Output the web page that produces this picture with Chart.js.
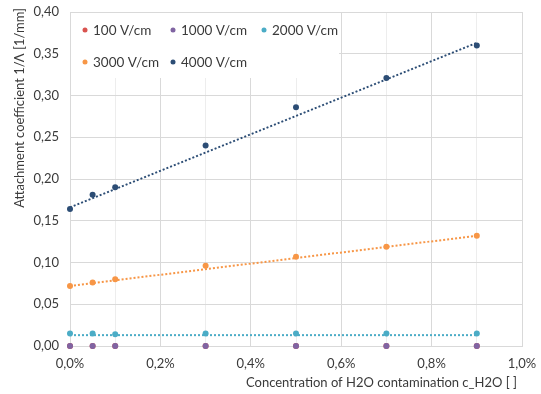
<!DOCTYPE html>
<html>
<head>
<meta charset="utf-8">
<script src="https://cdn.jsdelivr.net/npm/chart.js@4/dist/chart.umd.min.js"></script>
<style>
  html, body { margin: 0; padding: 0; background: #fff; }
  #wrap { width: 541px; height: 394px; }
</style>
</head>
<body>
<div id="wrap"><canvas id="chart" width="541" height="394"></canvas></div>
<script>
"use strict";

/* ---------- data ---------- */
const concentration = [0, 0.05, 0.1, 0.3, 0.5, 0.7, 0.9];   // %
const seriesNames = ["100 V/cm", "1000 V/cm", "2000 V/cm", "3000 V/cm", "4000 V/cm"];
const v100  = [0, 0, 0, 0, 0, 0, 0];
const v1000 = [0, 0, 0, 0, 0, 0, 0];
const v2000 = [0.015, 0.015, 0.014, 0.015, 0.015, 0.015, 0.015];
const v3000 = [0.072, 0.076, 0.080, 0.096, 0.107, 0.119, 0.132];
const v4000 = [0.164, 0.181, 0.190, 0.240, 0.286, 0.321, 0.360];

// linear trend lines (end points)
const trendX    = [0, 0.9];
const trend2000 = [0.013, 0.013];
const trend3000 = [0.072, 0.132];
const trend4000 = [0.166, 0.363];

const yTicks = [0, 0.05, 0.10, 0.15, 0.20, 0.25, 0.30, 0.35, 0.40];
const xTitle = "Concentration of H2O contamination c_H2O [ ]";
const yTitle = "Attachment coefficient 1/\u039B [1/mm]";

/* ---------- style ---------- */
const COLORS = ["#D9534F", "#8064A2", "#4BACC6", "#F79646", "#2C4D75"];
const FONT = "Lato, 'Open Sans', sans-serif";
const TEXT = "#3A3A3A";

function pts(xs, ys) { return xs.map((x, i) => ({ x: x, y: ys[i] })); }
function comma(v, d) { return v.toFixed(d).replace(".", ","); }

const pointSets = [v100, v1000, v2000, v3000, v4000];
const datasets = [];

// trend lines (beneath points)
[[trend2000, 2], [trend3000, 3], [trend4000, 4]].forEach(([t, ci]) => {
  datasets.push({
    type: "line",
    data: pts(trendX, t),
    borderColor: COLORS[ci],
    borderWidth: 2,
    borderDash: [2, 2],
    borderCapStyle: "butt",
    pointRadius: 0,
    fill: false,
    order: 20
  });
});

// points: lower order = drawn on top
pointSets.forEach((vals, i) => {
  datasets.push({
    label: seriesNames[i],
    type: "scatter",
    data: pts(concentration, vals),
    backgroundColor: COLORS[i],
    borderColor: COLORS[i],
    pointRadius: 3,
    pointBorderWidth: 0,
    clip: false,
    order: 10 - i
  });
});

/* ---------- legend box + axis titles ---------- */
const legendPos = [[85, 30], [173, 30], [264, 30], [85, 62], [173, 62]];

const decor = {
  id: "decor",
  beforeDatasetsDraw(chart) {
    const ctx = chart.ctx;
    const a = chart.chartArea;
    ctx.save();
    ctx.fillStyle = "#fff";
    ctx.fillRect(a.left + 1, a.top + 1, 339 - a.left - 1, 78 - a.top - 1);
    ctx.font = "13.5px " + FONT;
    ctx.textBaseline = "middle";
    ctx.textAlign = "left";
    seriesNames.forEach((name, i) => {
      const [x, y] = legendPos[i];
      ctx.fillStyle = COLORS[i];
      ctx.beginPath();
      ctx.arc(x, y, 2.5, 0, Math.PI * 2);
      ctx.fill();
      ctx.fillStyle = TEXT;
      ctx.fillText(name, x + 8, y + 1);
    });
    ctx.restore();
  },
  afterDraw(chart) {
    const ctx = chart.ctx;
    ctx.save();
    ctx.fillStyle = TEXT;
    ctx.font = "13px " + FONT;
    ctx.textBaseline = "middle";
    ctx.textAlign = "right";
    ctx.fillText(xTitle, 517, 383);
    ctx.translate(20, 8);
    ctx.rotate(-Math.PI / 2);
    ctx.fillText(yTitle, 0, 0);
    ctx.restore();
  }
};

new Chart(document.getElementById("chart"), {
  type: "scatter",
  data: { datasets: datasets },
  plugins: [decor],
  options: {
    responsive: false,
    animation: false,
    layout: { padding: { top: 12, right: 19, left: 0, bottom: 0 } },
    plugins: { legend: { display: false }, tooltip: { enabled: false } },
    scales: {
      x: {
        type: "linear",
        min: 0, max: 1,
        ticks: {
          stepSize: 0.1,
          padding: 10,
          color: TEXT,
          font: { family: FONT, size: 13 },
          callback: (v) => {
            const r = Math.round(v * 10);
            return r % 2 === 0 ? comma(v, 1) + "%" : "";
          }
        },
        grid: {
          drawTicks: false,
          color: (c) => (Math.round(c.tick.value * 10) % 2 === 0 ? "#D9D9D9" : "#EDEDED"),
          lineWidth: 1
        },
        border: { color: "#D9D9D9" },
        afterFit: (s) => { s.height = 48; s.paddingLeft = 0; s.paddingRight = 0; }
      },
      y: {
        min: 0, max: 0.4,
        afterBuildTicks: (s) => { s.ticks = yTicks.map(v => ({ value: v })); },
        ticks: {
          padding: 11,
          color: TEXT,
          font: { family: FONT, size: 13 },
          callback: (v) => comma(v, 2)
        },
        grid: { drawTicks: false, color: "#D9D9D9" },
        border: { color: "#D9D9D9" },
        afterFit: (s) => { s.width = 70; s.paddingTop = 0; s.paddingBottom = 0; }
      }
    }
  }
});
</script>
</body>
</html>
